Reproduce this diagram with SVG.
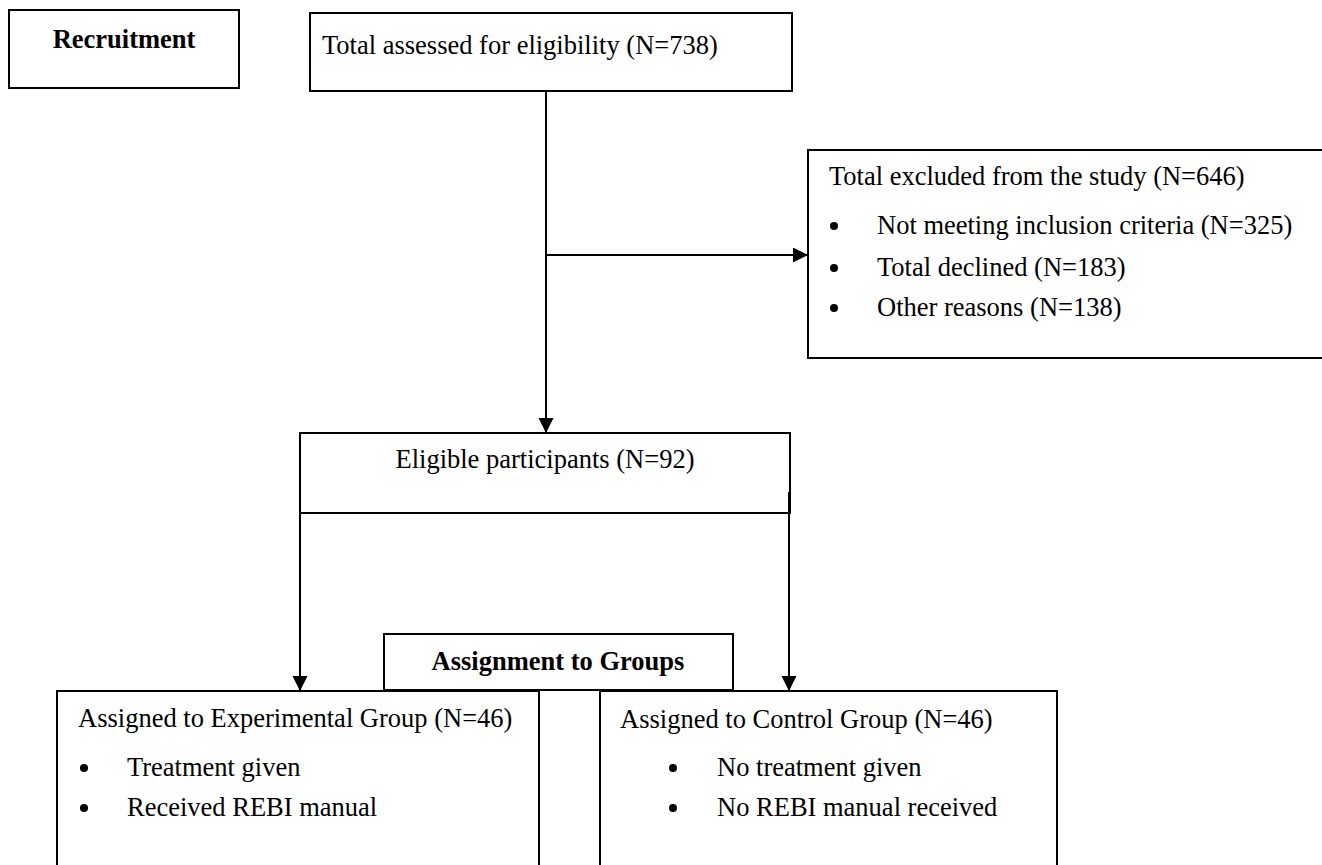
<svg xmlns="http://www.w3.org/2000/svg" width="1322" height="865" viewBox="0 0 1322 865">
  <style>
    .box { fill: #ffffff; stroke: #000000; stroke-width: 2; }
    .t { font-family: "Liberation Serif", "Times New Roman", serif; font-size: 26.5px; fill: #000000; }
    .b { font-weight: bold; }
    .conn { stroke: #000000; stroke-width: 2; fill: none; }
    .dot { fill: #000000; }
  </style>
  <defs>
    <marker id="arr" markerWidth="16" markerHeight="16" refX="15" refY="7.5" orient="auto" markerUnits="userSpaceOnUse">
      <path d="M0,0 L15,7.5 L0,15 Z" fill="#000000"/>
    </marker>
  </defs>
  <rect x="0" y="0" width="1322" height="865" fill="#ffffff"/>

  <g id="recruitment">
    <rect class="box" x="9" y="10" width="230" height="78"/>
    <text class="t b" x="124" y="48" text-anchor="middle">Recruitment</text>
  </g>

  <g id="assessed">
    <rect class="box" x="310" y="13" width="482" height="78"/>
    <text class="t" x="322" y="54">Total assessed for eligibility (N=738)</text>
  </g>

  <g id="excluded">
    <rect class="box" x="808" y="150" width="530" height="208"/>
    <text class="t" x="829" y="185">Total excluded from the study (N=646)</text>
    <circle class="dot" cx="834" cy="226" r="4"/>
    <text class="t" x="877" y="234">Not meeting inclusion criteria (N=325)</text>
    <circle class="dot" cx="834" cy="268" r="4"/>
    <text class="t" x="877" y="276">Total declined (N=183)</text>
    <circle class="dot" cx="834" cy="308" r="4"/>
    <text class="t" x="877" y="316">Other reasons (N=138)</text>
  </g>

  <g id="eligible">
    <rect class="box" x="300" y="433" width="490" height="80"/>
    <text class="t" x="545" y="468" text-anchor="middle">Eligible participants (N=92)</text>
  </g>

  <g id="experimental">
    <rect class="box" x="57" y="691" width="482" height="200"/>
    <text class="t" x="78" y="727">Assigned to Experimental Group (N=46)</text>
    <circle class="dot" cx="84" cy="768" r="4"/>
    <text class="t" x="127" y="776">Treatment given</text>
    <circle class="dot" cx="84" cy="808" r="4"/>
    <text class="t" x="127" y="816">Received REBI manual</text>
  </g>

  <g id="control">
    <rect class="box" x="600" y="691" width="457" height="200"/>
    <text class="t" x="620" y="728">Assigned to Control Group (N=46)</text>
    <circle class="dot" cx="673" cy="768" r="4"/>
    <text class="t" x="717" y="776">No treatment given</text>
    <circle class="dot" cx="673" cy="808" r="4"/>
    <text class="t" x="717" y="816">No REBI manual received</text>
  </g>

  <g id="assignment">
    <rect class="box" x="384" y="634" width="349" height="56"/>
    <text class="t b" x="558" y="670" text-anchor="middle">Assignment to Groups</text>
  </g>

  <g id="connectors">
    <line class="conn" x1="546" y1="91" x2="546" y2="433" marker-end="url(#arr)"/>
    <line class="conn" x1="546" y1="255" x2="808" y2="255" marker-end="url(#arr)"/>
    <line class="conn" x1="300" y1="492" x2="300" y2="691" marker-end="url(#arr)"/>
    <line class="conn" x1="789" y1="492" x2="789" y2="691" marker-end="url(#arr)"/>
  </g>
</svg>
